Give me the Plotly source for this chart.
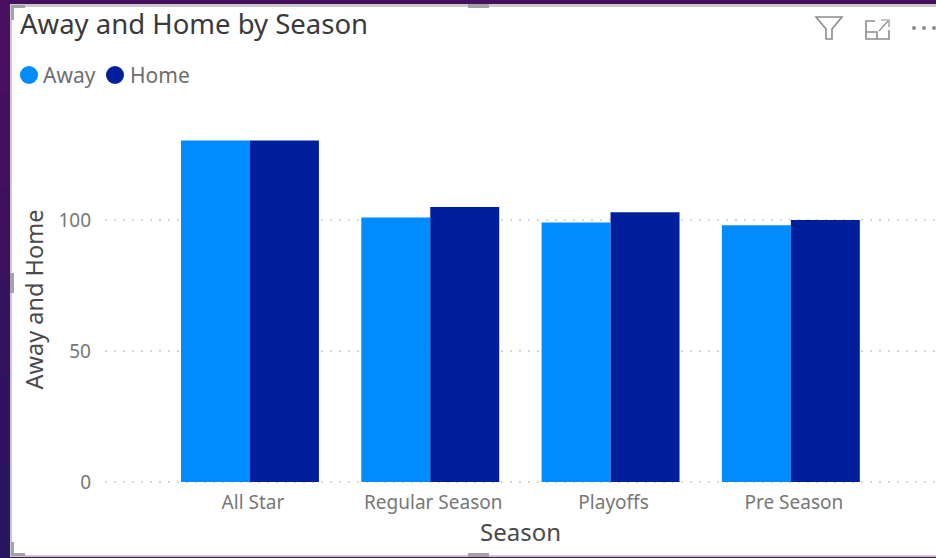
import plotly.graph_objects as go

seasons = ["All Star", "Regular Season", "Playoffs", "Pre Season"]
away = [130.3, 101, 99, 98]
home = [130.3, 105, 103, 100]
AWAY_COLOR = "#008cff"
HOME_COLOR = "#001f9c"

W, H = 936, 558
L, T, B = 105, 114, 73
PW, PH = W - L, H - T - B
SCALE = 2.62  # pixels per unit on the value axis
ZERO_PAD = 3 / SCALE


def px(x):
    return (x - L) / PW


def py(y):
    return (H - B - y) / PH


def rect(x0, y0, x1, y1, fill, layer="below"):
    return dict(type="rect", xref="paper", yref="paper", x0=px(x0), x1=px(x1), y0=py(y0), y1=py(y1),
                fillcolor=fill, line_width=0, layer=layer)


def path(points, color="#8c8c8c", width=1.6, close=False):
    d = "M " + " L ".join(f"{px(a):.5f},{py(b):.5f}" for a, b in points) + (" Z" if close else "")
    return dict(type="path", xref="paper", yref="paper", path=d, line=dict(color=color, width=width), layer="above")


def dot(cx, cy, r, fill):
    return dict(type="circle", xref="paper", yref="paper", x0=px(cx - r), x1=px(cx + r),
                y0=py(cy + r), y1=py(cy - r), fillcolor=fill, line_width=0, layer="above")


shapes = []
# purple page behind the card
bands = ["#4a0f5e", "#440f5e", "#3c105f", "#35125f", "#2e1460", "#281660"]
for i, c in enumerate(bands):
    shapes.append(rect(0, i * H / 6, 10, (i + 1) * H / 6, c))
shapes.append(rect(0, 0, W, 4, "#47105f"))
# card with border
shapes.append(rect(10, 4, W, H - 1, "#c9c9c9"))
shapes.append(rect(12, 7, W, H - 3, "#ffffff"))
# selection corners and handles
G = "#a3a3a3"
shapes += [
    rect(11, 5, 25, 8, G), rect(11, 5, 14, 20, G),
    rect(11, 542, 14, 556, G), rect(11, 553, 25, 556, G),
    rect(468, 4, 489, 8, G), rect(468, 553, 489, 557, G), rect(10, 273, 14, 293, G),
]
# visual header icons
shapes += [
    path([(816, 17), (842, 17), (832, 29), (832, 39), (826, 39), (826, 29)], close=True),
    path([(875, 21), (866, 21), (866, 39), (889, 39), (889, 30)]),
    path([(866, 32), (877, 32), (877, 39)]),
    path([(879, 31), (888, 21)], width=1.2),
    path([(881, 20), (889, 20), (889, 27)], width=1.2),
]
for cx in (914, 924, 934):
    shapes.append(dot(cx, 28, 2, "#8c8c8c"))
# legend markers
shapes += [dot(29, 75, 9, AWAY_COLOR), dot(115, 75, 9, HOME_COLOR)]


def legend_text(x, text):
    return dict(text=text, xref="paper", yref="paper", x=px(x), y=py(75), xanchor="left", yanchor="middle",
                showarrow=False, font=dict(size=21, color="#6e6e6e", family="Noto Sans"))


fig = go.Figure()
fig.add_bar(x=seasons, y=away, name="Away", marker=dict(color=AWAY_COLOR, line_width=0))
fig.add_bar(x=seasons, y=home, name="Home", marker=dict(color=HOME_COLOR, line_width=0))

fig.update_layout(
    width=W, height=H, autosize=False,
    margin=dict(l=L, r=0, t=T, b=B),
    paper_bgcolor="#47105f", plot_bgcolor="rgba(0,0,0,0)",
    barmode="group", bargap=0.235, bargroupgap=0,
    font=dict(family="Noto Sans", color="#666666"),
    shapes=shapes,
    showlegend=False,
    annotations=[legend_text(41, "Away"), legend_text(128, "Home")],
    title=dict(text="Away and Home by Season", x=20 / W, xanchor="left", xref="container",
               y=1 - 24 / H, yanchor="middle", yref="container",
               font=dict(family="Noto Sans", size=27.5, color="#3a3a3a")),
    xaxis=dict(range=[-0.804, 3.805], showgrid=False, zeroline=False, showline=False, ticks="",
               tickfont=dict(size=19, color="#777777"), ticklabelstandoff=4, ticklabelshift=3,
               title=dict(text="Season", font=dict(size=24, color="#4a4a4a"), standoff=10)),
    yaxis=dict(range=[-ZERO_PAD, PH / SCALE - ZERO_PAD], tickvals=[0, 50, 100], showgrid=True,
               griddash="1.5px,7.5px", gridcolor="#d6d6d6", gridwidth=1.5, zeroline=False, showline=False,
               ticks="", ticklabelstandoff=13,
               tickfont=dict(size=19, color="#777777"),
               title=dict(text="Away and Home", font=dict(size=23.5, color="#4a4a4a"), standoff=8)),
)
fig.write_html("out.html", config={"displayModeBar": False},
               post_script="document.body.style.margin='0';")
